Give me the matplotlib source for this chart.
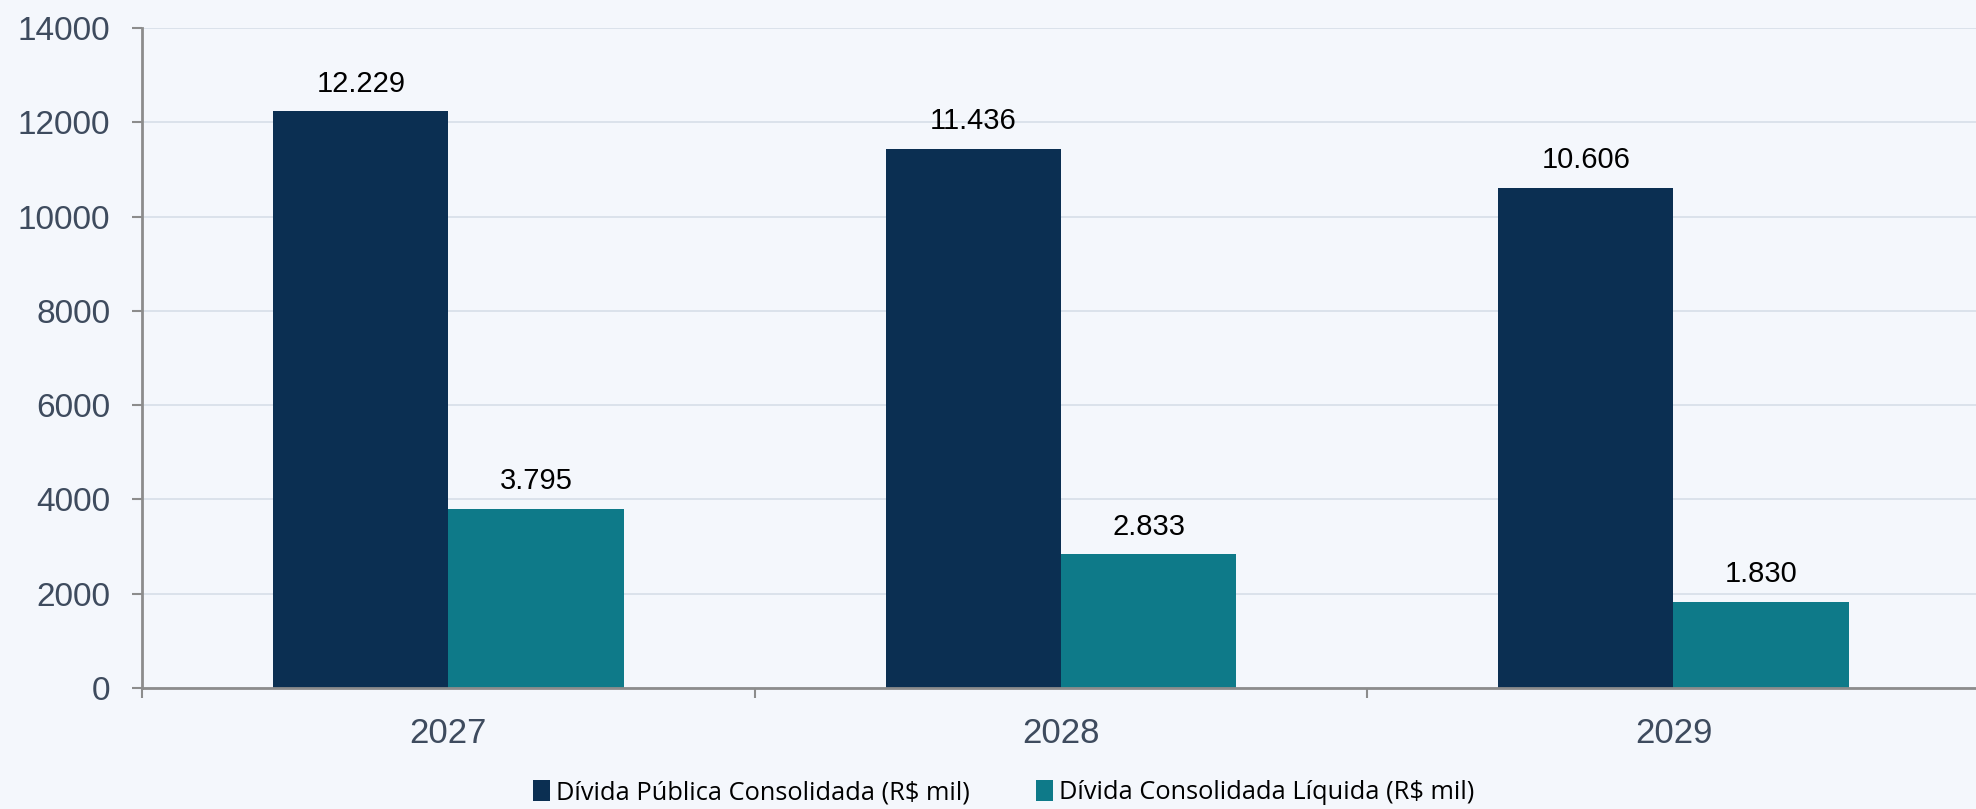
import numpy as np
from matplotlib import pyplot as plt
from matplotlib.patches import Patch

# === Dados ===
anos = ["2027", "2028", "2029"]
divida_publica = [12229, 11436, 10606]
divida_liquida = [3795, 2833, 1830]
series_labels = ["Dívida Pública Consolidada (R$ mil)", "Dívida Consolidada Líquida (R$ mil)"]
y_ticks = [0, 2000, 4000, 6000, 8000, 10000, 12000, 14000]

# === Cores ===
BG = "#F4F7FC"
NAVY = "#0B2F52"
TEAL = "#0E7A89"
GRID = "#D6DEE8"
SPINE = "#8C8C8C"
TICK_TXT = "#3E4B5E"


def fmt_br(v):
    return f"{v:,.0f}".replace(",", ".")


fig = plt.figure(figsize=(19.76, 8.09), dpi=100, facecolor=BG)
ax = fig.add_axes([0.0719, 0.1496, 0.93, 0.8158], facecolor=BG)

x = np.arange(len(anos))
w = 0.286
b1 = ax.bar(x - w / 2, divida_publica, width=w, color=NAVY, zorder=3)
b2 = ax.bar(x + w / 2, divida_liquida, width=w, color=TEAL, zorder=3)

for bars in (b1, b2):
    for bar in bars:
        h = bar.get_height()
        ax.annotate(fmt_br(h), xy=(bar.get_x() + bar.get_width() / 2, h),
                    xytext=(0, 10), textcoords="offset points",
                    ha="center", va="bottom", fontsize=21,
                    family="Liberation Sans", color="black")

ax.set_xlim(-0.5, 2.5)
ax.set_ylim(0, 14000)
ax.set_yticks(y_ticks)
ax.set_yticklabels([str(t) for t in y_ticks], family="Liberation Sans")
ax.tick_params(axis="y", length=7, width=1.5, color=SPINE, pad=16,
               labelsize=24, labelcolor=TICK_TXT)

# ticks nas fronteiras das categorias, rótulos no centro
ax.set_xticks([-0.5, 0.5, 1.5, 2.5])
ax.set_xticklabels([])
ax.set_xticks(x, minor=True)
ax.set_xticklabels(anos, minor=True, family="Liberation Sans")
ax.tick_params(axis="x", which="major", length=7, width=1.5, color=SPINE)
ax.tick_params(axis="x", which="minor", length=0, pad=21,
               labelsize=25, labelcolor=TICK_TXT)

ax.grid(axis="y", color=GRID, linewidth=1.2, zorder=0)
for s in ("top", "right"):
    ax.spines[s].set_visible(False)
for s in ("left", "bottom"):
    ax.spines[s].set_color(SPINE)
    ax.spines[s].set_linewidth(2)
ax.spines["bottom"].set_zorder(4)

handles = [Patch(facecolor=NAVY, label=series_labels[0]),
           Patch(facecolor=TEAL, label=series_labels[1])]
fig.legend(handles=handles, loc="center", bbox_to_anchor=(0.508, 0.02),
           ncol=2, frameon=False, handlelength=0.65, handleheight=0.85,
           handletextpad=0.25, columnspacing=2.6,
           prop={"family": "Open Sans", "size": 18.3})

plt.savefig("out.png", dpi=100, facecolor=BG)
plt.close()
